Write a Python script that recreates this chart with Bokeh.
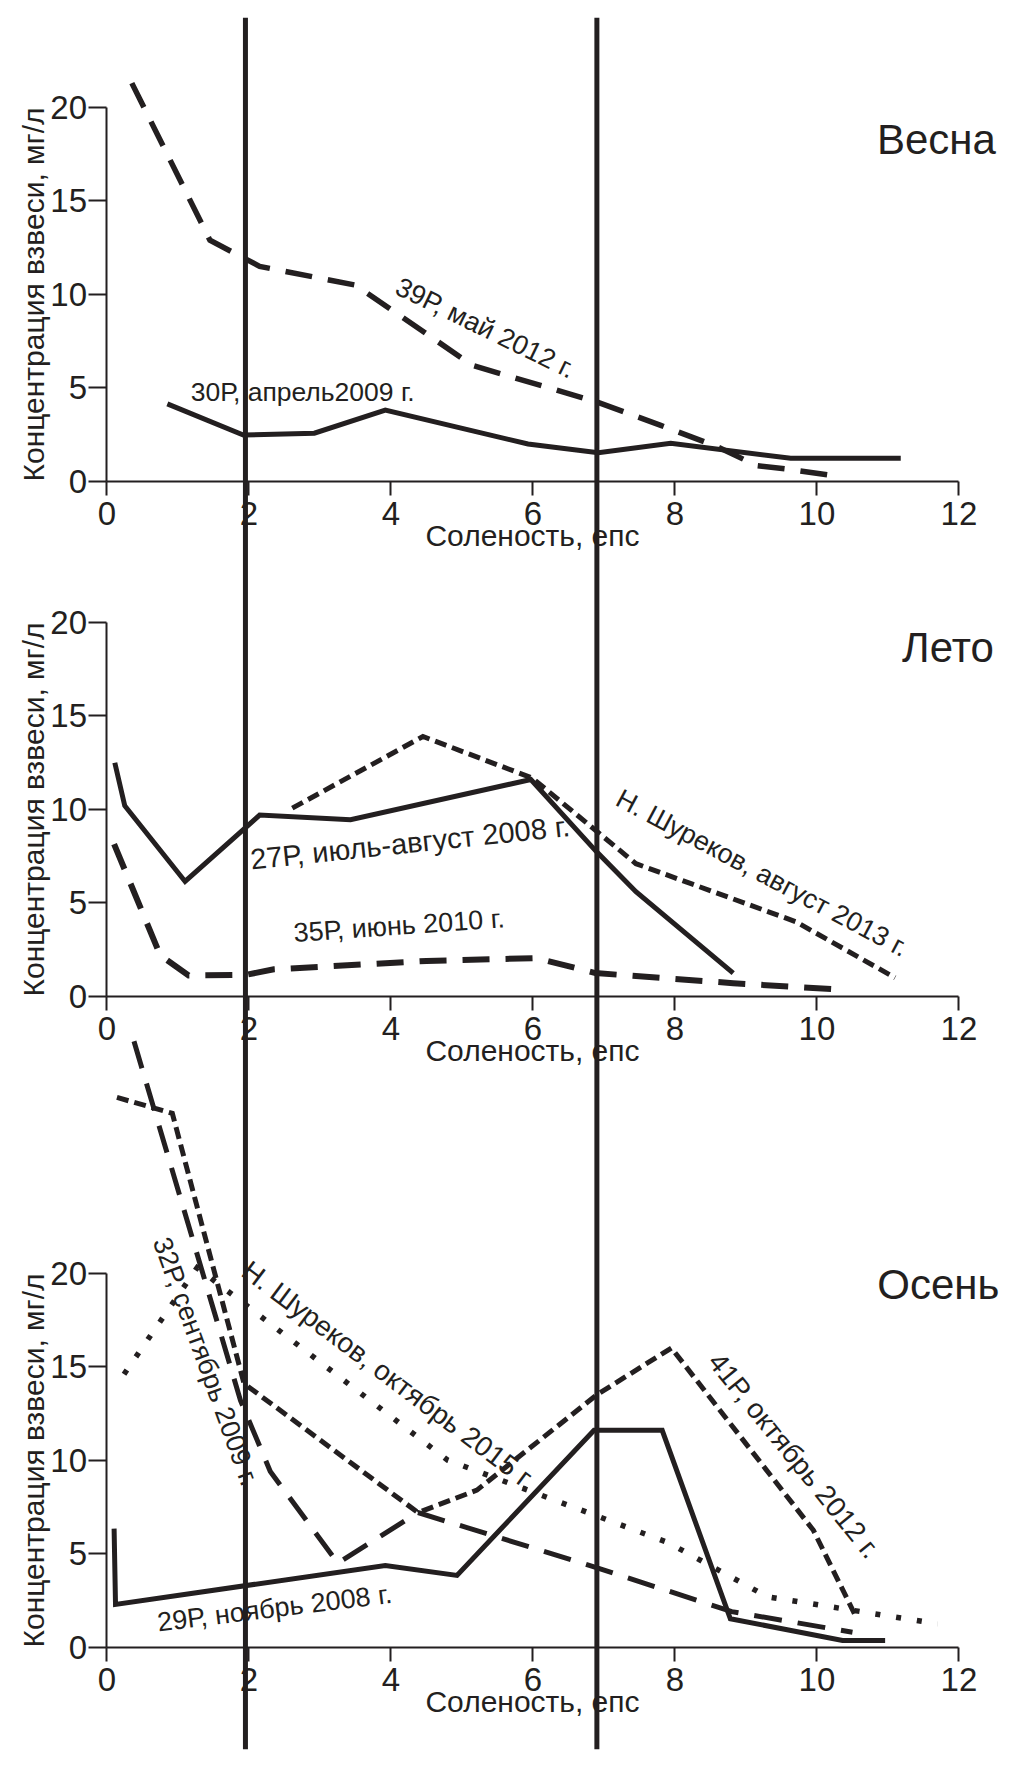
from bokeh.plotting import figure
from bokeh.models import Range1d, LinearAxis, FixedTicker, Span, ColumnDataSource
from bokeh.core.properties import value
from bokeh.embed import file_html
from bokeh.resources import INLINE

INK = "#231f20"
FONT = "Liberation Sans"

# ---------------- data ----------------
x_ticks = [0, 2, 4, 6, 8, 10, 12]
y_ticks = [0, 5, 10, 15, 20]
boundaries = [1.95, 6.9]          # salinity boundaries (vertical lines)

# Весна
spring_30P_x = [0.85, 1.92, 2.92, 3.92, 5.93, 6.92, 7.94, 9.63, 11.18]
spring_30P_y = [4.15, 2.48, 2.58, 3.82, 2.0, 1.53, 2.04, 1.24, 1.24]
spring_39P_x = [0.35, 1.45, 1.95, 2.15, 3.5, 5.15, 6.9, 7.8, 8.6, 9.15, 9.6, 10.25]
spring_39P_y = [21.3, 12.9, 11.9, 11.5, 10.5, 6.2, 4.25, 3.0, 1.85, 0.85, 0.65, 0.3]

# Лето
summer_27P_x = [0.11, 0.25, 1.1, 2.15, 3.43, 5.97, 6.88, 7.45, 8.82]
summer_27P_y = [12.5, 10.2, 6.15, 9.7, 9.45, 11.6, 7.8, 5.6, 1.25]
summer_35P_x = [0.1, 0.75, 1.15, 1.95, 2.35, 4.5, 6.05, 6.88, 8.82, 10.37]
summer_35P_y = [8.15, 2.2, 1.12, 1.15, 1.45, 1.9, 2.05, 1.25, 0.71, 0.36]
summer_sh13_x = [2.61, 4.45, 5.99, 7.45, 9.7, 11.1]
summer_sh13_y = [10.07, 13.9, 11.68, 7.1, 4.0, 1.0]

# Осень
autumn_29P_x = [0.1, 0.12, 3.92, 4.93, 6.86, 7.82, 8.78, 10.36, 10.96]
autumn_29P_y = [6.34, 2.29, 4.37, 3.84, 11.6, 11.6, 1.52, 0.36, 0.36]
autumn_32P_x = [0.38, 1.88, 2.3, 3.25, 4.38, 6.86, 8.8, 10.5]
autumn_32P_y = [32.4, 13.2, 9.4, 4.5, 7.2, 4.3, 1.9, 0.8]
autumn_41P_x = [0.14, 0.92, 1.93, 4.38, 5.21, 6.9, 7.95, 9.95, 10.54]
autumn_41P_y = [29.4, 28.55, 14.1, 7.2, 8.4, 13.5, 16.0, 6.25, 1.7]
autumn_sh15_x = [0.24, 1.27, 4.8, 7.9, 9.3, 11.7]
autumn_sh15_y = [14.6, 20.3, 10.0, 5.6, 2.7, 1.25]

panel_names = ["spring", "summer", "autumn"]
panel_titles = ["Весна", "Лето", "Осень"]
title_x = [12.52, 12.49, 12.57]
title_y = [18.3, 18.65, 19.4]

label_panel = ["spring", "spring", "summer", "summer", "summer",
               "autumn", "autumn", "autumn", "autumn"]
label_text = ["30Р, апрель2009 г.", "39Р, май 2012 г.",
              "27Р, июль-август 2008 г.", "35Р, июнь 2010 г.",
              "Н. Шуреков, август 2013 г.",
              "32Р, сентябрь 2009 г.", "Н. Шуреков, октябрь 2015 г.",
              "41Р, октябрь 2012 г.", "29Р, ноябрь 2008 г."]
label_x = [1.18, 4.09, 2.02, 2.63, 7.2, 0.76, 1.95, 8.55, 0.71]
label_y = [4.8, 10.5, 7.32, 3.39, 10.69, 21.86, 20.33, 15.54, 1.32]
label_angle = [0, -26, 6, 4, -28, -70, -37, -51, 7]
label_size = ["26.5px", "27px", "29px", "27px", "27px", "27px", "28px", "28px", "27px"]

# ---------------- figure ----------------
W, H = 1000, 1753
p = figure(width=W, height=H, output_backend="svg", toolbar_location=None,
           x_axis_location=None, y_axis_location=None,
           x_range=Range1d(-1.5, 12.585), y_range=Range1d(0, 1),
           min_border_left=0, min_border_right=0,
           min_border_top=17, min_border_bottom=4)
p.outline_line_color = None
p.background_fill_color = "white"
p.border_fill_color = "white"
for g in p.grid:
    g.visible = False

p.extra_y_ranges = {
    "spring": Range1d(-67.81, 24.81),
    "summer": Range1d(-40.27, 52.35),
    "autumn": Range1d(-5.47, 87.15),
}

for name in panel_names:
    xa = LinearAxis(y_range_name=name, fixed_location=0, bounds=(0, 12),
                    ticker=FixedTicker(ticks=x_ticks),
                    axis_label="Соленость, епс")
    ya = LinearAxis(y_range_name=name, fixed_location=0, bounds=(0, 20),
                    ticker=FixedTicker(ticks=y_ticks),
                    axis_label="Концентрация взвеси, мг/л")
    for ax in (xa, ya):
        ax.axis_line_color = INK
        ax.axis_line_width = 2
        ax.major_tick_line_color = INK
        ax.major_tick_line_width = 2
        ax.minor_tick_line_color = None
        ax.major_tick_in = 0
        ax.major_label_text_font = FONT
        ax.major_label_text_font_size = "33px"
        ax.major_label_text_color = INK
        ax.axis_label_text_font = FONT
        ax.axis_label_text_font_size = "30px"
        ax.axis_label_text_font_style = "normal"
        ax.axis_label_text_color = INK
    xa.major_tick_out = 14
    xa.major_label_standoff = 7
    xa.axis_label_standoff = -10
    ya.major_tick_out = 18
    ya.major_label_standoff = 2
    ya.axis_label_standoff = -3
    p.add_layout(xa, "below")
    p.add_layout(ya, "left")

def series(x, y, rng, width, dash="solid"):
    p.line(x, y, y_range_name=rng, line_color=INK, line_width=width,
           line_dash=dash, line_join="miter")

series(spring_30P_x, spring_30P_y, "spring", 5)
series(spring_39P_x, spring_39P_y, "spring", 5.5, "27 16")

series(summer_27P_x, summer_27P_y, "summer", 5)
series(summer_35P_x, summer_35P_y, "summer", 6, "27 16")
series(summer_sh13_x, summer_sh13_y, "summer", 5, "12 6")

series(autumn_29P_x, autumn_29P_y, "autumn", 5)
series(autumn_32P_x, autumn_32P_y, "autumn", 5, "28 16")
series(autumn_41P_x, autumn_41P_y, "autumn", 5, "12 6")
series(autumn_sh15_x, autumn_sh15_y, "autumn", 5.5, "5 16")

for b in boundaries:
    p.add_layout(Span(location=b, dimension="height", line_color=INK, line_width=5))

for name, t, tx, ty in zip(panel_names, panel_titles, title_x, title_y):
    p.text(x=[tx], y=[ty], text=[t], y_range_name=name, text_align="right",
           text_baseline="middle", text_font=value(FONT),
           text_font_size="42px", text_color=INK)

for name in panel_names:
    idx = [i for i, n in enumerate(label_panel) if n == name]
    src = ColumnDataSource(dict(
        x=[label_x[i] for i in idx], y=[label_y[i] for i in idx],
        text=[label_text[i] for i in idx], angle=[label_angle[i] for i in idx],
        size=[label_size[i] for i in idx]))
    p.text(x="x", y="y", text="text", angle="angle", angle_units="deg",
           source=src, y_range_name=name, text_align="left",
           text_baseline="middle", text_font=value(FONT),
           text_font_size="size", text_color=INK)

open("out.html", "w").write(file_html(p, INLINE))
